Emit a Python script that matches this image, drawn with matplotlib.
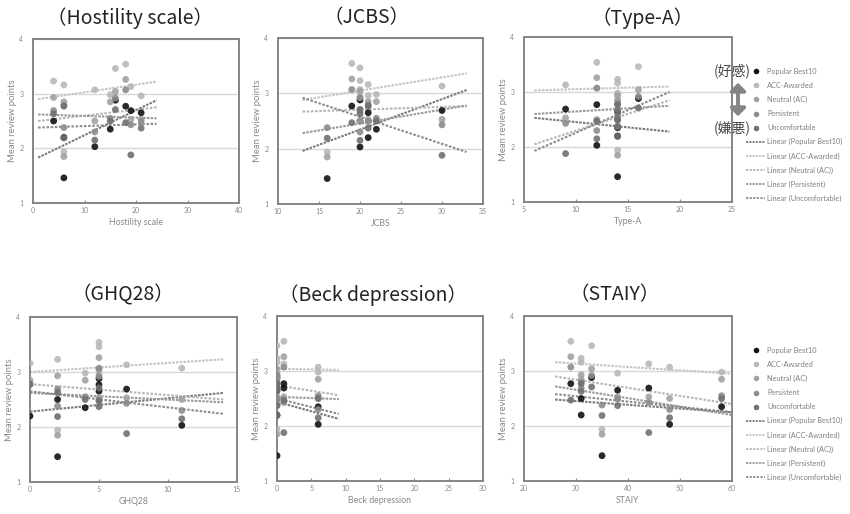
import matplotlib
matplotlib.use('Agg')
import matplotlib.pyplot as plt
from matplotlib.lines import Line2D

plt.rcParams['font.family'] = ['Lato', 'DejaVu Sans']

# ---------------- data ----------------
categories = ['Popular Best10', 'ACC-Awarded', 'Neutral (AC)', 'Persistent', 'Uncomfortable']

# mean review points of 9 respondents for each category
popular    = [2.50, 1.46, 2.20, 2.03, 2.35, 2.88, 2.77, 2.69, 2.65]
acc        = [3.23, 1.94, 3.16, 3.07, 2.98, 3.46, 3.54, 3.13, 2.96]
neutral    = [2.93, 1.85, 2.85, 2.50, 2.85, 3.04, 3.26, 2.53, 2.53]
persistent = [2.69, 2.38, 2.79, 2.30, 2.55, 2.92, 3.07, 2.43, 2.49]
uncomf     = [2.63, 2.19, 2.77, 2.15, 2.50, 2.71, 2.47, 1.88, 2.37]

# scale scores of the same 9 respondents
hostility = [4, 6, 6, 12, 15, 16, 18, 19, 21]
jcbs      = [20, 16, 21, 20, 22, 20, 19, 30, 21]
type_a    = [14, 14, 14, 12, 14, 16, 12, 9, 14]
ghq28     = [2, 2, 0, 11, 4, 5, 5, 7, 5]
beck      = [0, 0, 0, 6, 6, 0, 1, 1, 0]
staiy     = [31, 35, 31, 48, 58, 33, 29, 44, 38]

# linear trend values (start, end), order = categories
trend_hostility = [(1.83, 2.88), (2.90, 3.22), (2.50, 2.75), (2.62, 2.55), (2.38, 2.45)]
trend_jcbs      = [(1.96, 3.06), (2.88, 3.36), (2.67, 2.77), (2.28, 2.78), (2.92, 1.94)]
trend_type_a    = [(2.53, 2.28), (3.03, 3.10), (2.05, 2.85), (2.60, 2.75), (1.93, 3.00)]
trend_ghq28     = [(2.28, 2.62), (3.00, 3.23), (2.78, 2.50), (2.62, 2.45), (2.65, 2.24)]
trend_beck      = [(2.44, 2.13), (3.04, 3.02), (2.74, 2.56), (2.53, 2.49), (2.50, 2.22)]
trend_staiy     = [(2.48, 2.25), (3.16, 2.95), (2.90, 2.40), (2.72, 2.20), (2.58, 2.25)]

series = [popular, acc, neutral, persistent, uncomf]

# ---------------- style ----------------
marker_colors = ['#111111', '#b8b8b8', '#a2a2a2', '#8c8c8c', '#707070']
line_colors = ['#7a7a7a', '#c4c4c4', '#b4b4b4', '#9a9a9a', '#8a8a8a']
line_styles = [(0, (1.2, 0.6)), (0, (1.2, 0.6)), (0, (1.2, 0.8)), (0, (1.2, 0.6)), (0, (1.2, 0.8))]

W, H = 850, 514
fig = plt.figure(figsize=(8.5, 5.14), dpi=100)


def rect(l, t, r, b):
    return [l / W, 1 - b / H, (r - l) / W, (b - t) / H]


panels = [
    dict(x=hostility, trend=trend_hostility, rect=rect(33, 39, 239, 203), xlim=(0, 40), xticks=[0, 10, 20, 30, 40],
         xlabel='Hostility scale', title='（Hostility scale）', tpos=(130, 18)),
    dict(x=jcbs, trend=trend_jcbs, rect=rect(278, 38, 483, 204), xlim=(10, 35), xticks=[10, 15, 20, 25, 30, 35],
         xlabel='JCBS', title='（JCBS）', tpos=(367, 18)),
    dict(x=type_a, trend=trend_type_a, rect=rect(524, 37, 732, 202), xlim=(5, 25), xticks=[5, 10, 15, 20, 25],
         xlabel='Type-A', title='（Type-A）', tpos=(643, 18)),
    dict(x=ghq28, trend=trend_ghq28, rect=rect(30, 317, 237, 482), xlim=(0, 15), xticks=[0, 5, 10, 15],
         xlabel='GHQ28', title='（GHQ28）', tpos=(123, 295)),
    dict(x=beck, trend=trend_beck, rect=rect(277, 316, 483, 481), xlim=(0, 30), xticks=[0, 5, 10, 15, 20, 25, 30],
         xlabel='Beck depression', title='（Beck depression）', tpos=(373, 295)),
    dict(x=staiy, trend=trend_staiy, rect=rect(524, 316, 732, 481), xlim=(20, 60), xticks=[20, 30, 40, 50, 60],
         xlabel='STAIY', title='（STAIY）', tpos=(615, 295)),
]

for p in panels:
    ax = fig.add_axes(p['rect'])
    ax.set_xlim(*p['xlim'])
    ax.set_ylim(1, 4)
    ax.set_xticks(p['xticks'])
    ax.set_yticks([1, 2, 3, 4])
    ax.yaxis.grid(True, color='#d8d8d8', lw=1.0)
    ax.set_axisbelow(True)
    for s in ax.spines.values():
        s.set_color('#858585')
        s.set_linewidth(1.4)
    ax.tick_params(axis='both', labelsize=5, colors='#8c8c8c', labelcolor='#888888',
                   direction='in', length=2.5, width=0.8, pad=3)
    ax.tick_params(axis='y', length=0, pad=7)
    ax.set_xlabel(p['xlabel'], fontsize=6.3, color='#888888', labelpad=3)
    ax.set_ylabel('Mean review points', fontsize=6.8, color='#888888')
    axw = p['rect'][2] * W
    ax.yaxis.set_label_coords(-16 / axw, 0.5)

    x = p['x']
    for vals, mc in zip(series, marker_colors):
        ax.scatter(x, vals, s=24, color=mc, edgecolors='none', alpha=0.9, zorder=3)
    x0 = max(p['xlim'][0], min(x) - 3)
    x1 = min(p['xlim'][1], max(x) + 3)
    for (y0, y1), lc, ls in zip(p['trend'], line_colors, line_styles):
        ax.plot([x0, x1], [y0, y1], color=lc, ls=ls, lw=1.5, zorder=2)

    fig.text(p['tpos'][0] / W, 1 - p['tpos'][1] / H, p['title'], ha='center', va='center',
             fontsize=14, color='#222222', family=['Noto Sans CJK JP', 'DejaVu Sans'])

# ---------------- legends ----------------
handles = [Line2D([], [], ls='none', marker='o', markersize=4, color=c, markeredgecolor='none')
           for c in marker_colors]
handles += [Line2D([], [], color=lc, ls=ls, lw=1.3) for lc, ls in zip(line_colors, line_styles)]
labels = categories + ['Linear (%s)' % c for c in categories]

for top in (68, 347):
    fig.legend(handles, labels, loc='upper left', bbox_to_anchor=(746 / W, 1 - top / H),
               frameon=False, fontsize=5.3, labelcolor='#808080', handlelength=2.6,
               handletextpad=0.3, labelspacing=0.95, borderpad=0, borderaxespad=0)

# preference annotation
fig.text(732 / W, 1 - 71 / H, '(好感)', ha='center', va='center', fontsize=10, color='#444444',
         family=['Noto Sans CJK JP', 'DejaVu Sans'])
fig.text(732 / W, 1 - 129 / H, '(嫌悪)', ha='center', va='center', fontsize=10, color='#444444',
         family=['Noto Sans CJK JP', 'DejaVu Sans'])
fig.add_artist(matplotlib.patches.FancyArrowPatch(
    (738 / W, 1 - 80 / H), (738 / W, 1 - 119 / H), transform=fig.transFigure,
    arrowstyle='<|-|>,head_width=3,head_length=3', lw=2.8, color='#858585', mutation_scale=1.5))

fig.savefig('out.png', dpi=100)
